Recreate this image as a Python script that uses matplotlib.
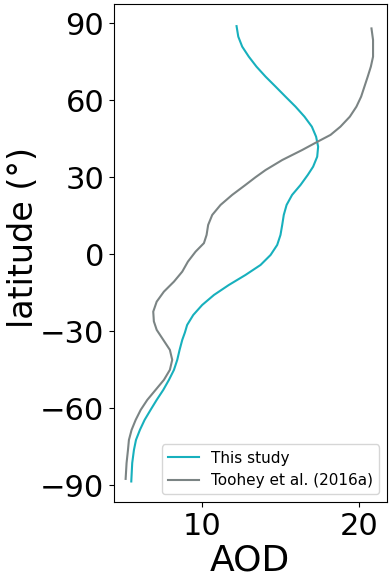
import matplotlib
matplotlib.use("Agg")
import matplotlib.pyplot as plt

# zonal AOD profiles (north to south)
lat_this = [88.9, 84.8, 80.9, 77.0, 73.1, 69.2, 65.3, 61.4, 57.5, 53.6, 49.7, 45.8, 41.9, 38.0,
            34.1, 30.9, 27.0, 23.1, 19.2, 15.3, 11.4, 7.5, 3.6, -0.3, -4.2, -8.1, -12.0, -15.9,
            -19.8, -23.7, -27.6, -30.5, -33.4, -37.3, -41.2, -45.1, -49.0, -52.9, -56.8, -60.7,
            -64.6, -68.5, -72.4, -76.3, -81.4, -88.6]
aod_this = [12.19, 12.30, 12.55, 12.97, 13.46, 14.04, 14.68, 15.31, 15.95, 16.52, 16.99, 17.26, 17.39, 17.33,
            17.07, 16.73, 16.27, 15.73, 15.38, 15.20, 15.10, 14.99, 14.78, 14.36, 13.72, 12.76, 11.70, 10.75,
            10.00, 9.43, 9.04, 8.90, 8.73, 8.56, 8.41, 8.20, 7.88, 7.52, 7.10, 6.71,
            6.33, 6.03, 5.78, 5.65, 5.54, 5.48]

lat_toohey = [88.0, 83.5, 77.0, 73.1, 69.2, 65.3, 61.4, 57.5, 53.6, 49.7, 46.5, 43.9, 40.6, 36.7,
              32.8, 30.0, 27.0, 23.1, 19.2, 15.3, 11.4, 7.5, 4.3, 1.0, -2.9, -6.8, -10.7, -14.6,
              -18.5, -22.4, -26.2, -29.5, -33.4, -37.3, -41.2, -45.1, -49.0, -52.9, -56.8, -60.7,
              -64.6, -68.5, -72.4, -76.3, -81.4, -87.6]
aod_toohey = [20.79, 20.89, 20.89, 20.75, 20.55, 20.34, 20.13, 19.83, 19.41, 18.81, 18.18, 17.37, 16.37, 15.10,
              14.04, 13.40, 12.76, 11.91, 11.17, 10.64, 10.38, 10.28, 10.11, 9.58, 9.09, 8.73, 8.20, 7.56,
              7.10, 6.88, 6.92, 7.10, 7.52, 7.94, 8.09, 7.94, 7.56, 7.03, 6.50, 6.08,
              5.76, 5.50, 5.33, 5.27, 5.18, 5.12]

lat_ticks = [-90, -60, -30, 0, 30, 60, 90]
aod_ticks = [10, 20]


def main():
    fig = plt.figure(figsize=(3.91, 5.79), dpi=100)
    ax = fig.add_axes([0.2916, 0.133, 0.697, 0.86])

    ax.plot(aod_this, lat_this, color='#17b0bd', lw=1.5, label='This study')
    ax.plot(aod_toohey, lat_toohey, color='#7b8484', lw=1.5, label='Toohey et al. (2016a)')

    ax.set_xlim(4.38, 21.75)
    ax.set_ylim(-96.6, 97.5)
    ax.set_xticks(aod_ticks)
    ax.set_yticks(lat_ticks)
    ax.tick_params(labelsize=22)

    ax.set_xlabel('AOD', fontsize=26, labelpad=2)
    ax.set_ylabel('latitude (°)', fontsize=24, labelpad=0)
    ax.yaxis.label.set_y(0.531)
    ax.legend(loc='lower right', fontsize=11)

    fig.savefig('out.png', dpi=100)


if __name__ == "__main__":
    main()
